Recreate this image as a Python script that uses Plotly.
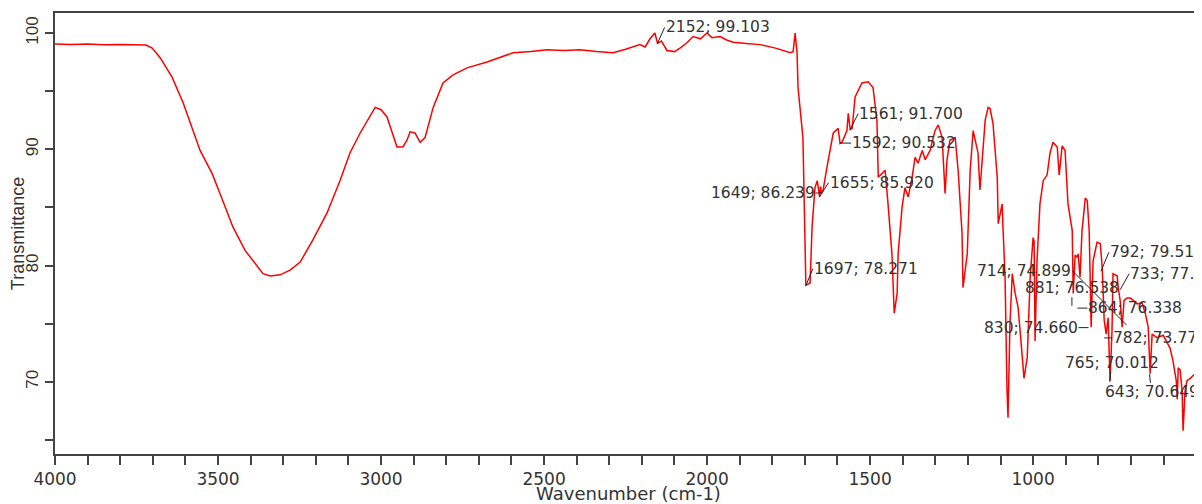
import plotly.graph_objects as go

wavenumber = [
    4000, 3950, 3900, 3850, 3800, 3750, 3721, 3702, 3678, 3641, 3607, 3555, 3518, 3494,
    3454, 3417, 3387, 3362, 3340, 3310, 3279, 3248, 3209, 3166, 3126, 3095, 3064, 3034,
    3018, 3000, 2982, 2963, 2951, 2933, 2920, 2911, 2896, 2880, 2865, 2840, 2810, 2779,
    2736, 2675, 2595, 2540, 2491, 2440, 2390, 2340, 2288, 2250, 2206, 2190, 2175, 2160,
    2152, 2140, 2123, 2100, 2083, 2060, 2043, 2020, 2000, 1985, 1960, 1940, 1920, 1880,
    1837, 1790, 1745, 1736, 1730, 1724, 1721, 1706, 1700, 1697, 1684, 1678, 1669, 1662,
    1655, 1652, 1649, 1644, 1632, 1613, 1598, 1592, 1586, 1571, 1567, 1561, 1555, 1546,
    1525, 1506, 1491, 1479, 1475, 1463, 1454, 1445, 1433, 1426, 1420, 1417, 1414, 1402,
    1393, 1383, 1371, 1362, 1353, 1340, 1331, 1316, 1301, 1291, 1279, 1270, 1264, 1255,
    1239, 1230, 1218, 1215, 1202, 1193, 1184, 1169, 1163, 1147, 1138, 1132, 1123, 1110,
    1107, 1095, 1092, 1086, 1080, 1077, 1071, 1064, 1055, 1046, 1034, 1028, 1018, 1009,
    1000, 997, 994, 988, 979, 969, 957, 948, 939, 926, 920, 911, 902, 893, 880, 877, 871,
    865, 862, 856, 850, 840, 834, 828, 822, 816, 804, 794, 788, 782, 776, 770, 764, 758,
    755, 742, 739, 733, 727, 721, 712, 702, 693, 681, 666, 656, 647, 641, 635, 620, 601,
    580, 571, 561, 558, 555, 549, 543, 540, 534, 528, 518, 503, 488, 482,
]
transmittance = [
    99.05, 99.0, 99.05, 98.98, 99.02, 98.95, 98.97, 98.7, 97.9, 96.2, 94.0, 89.9, 87.9, 86.2,
    83.3, 81.3, 80.2, 79.3, 79.1, 79.2, 79.6, 80.3, 82.2, 84.5, 87.3, 89.7, 91.4, 92.9,
    93.6, 93.4, 92.8, 91.2, 90.2, 90.2, 90.8, 91.5, 91.4, 90.6, 91.0, 93.6, 95.7, 96.4,
    97.0, 97.5, 98.3, 98.4, 98.55, 98.5, 98.55, 98.4, 98.3, 98.6, 99.0, 98.8, 99.5, 100.0,
    99.1, 99.3, 98.5, 98.4, 98.7, 99.2, 99.7, 99.5, 100.0, 99.6, 99.7, 99.4, 99.2, 99.1,
    99.0, 98.7, 98.3, 98.4, 100.0, 98.3, 95.3, 91.0, 83.9, 78.3, 78.5, 83.3, 86.7, 87.3,
    85.9, 86.8, 86.2, 86.5, 88.5, 91.4, 91.8, 90.5, 90.6, 91.6, 93.1, 91.7, 91.8, 94.5,
    95.7, 95.8, 95.3, 92.5, 87.6, 88.0, 88.2, 85.3, 81.0, 75.9, 77.0, 77.6, 81.0, 85.0,
    86.7, 85.9, 87.6, 89.3, 88.8, 89.9, 89.1, 89.9, 91.6, 92.1, 91.0, 86.2, 89.1, 90.8,
    91.0, 88.2, 82.8, 78.1, 81.0, 88.2, 91.6, 89.7, 86.5, 92.5, 93.6, 93.5, 92.2, 87.6,
    83.6, 85.3, 83.0, 79.0, 69.2, 66.9, 75.0, 79.3, 77.6, 76.4, 72.4, 70.3, 72.1, 79.0,
    82.4, 82.1, 73.5, 80.4, 85.3, 87.3, 87.8, 89.7, 90.6, 90.2, 87.8, 90.3, 89.9, 85.3, 83.0, 77.6, 80.9,
    80.7, 81.0, 79.0, 83.0, 85.8, 85.6, 83.0, 74.7, 80.4, 82.0, 81.9, 79.8, 75.3, 74.1, 75.5, 70.1, 74.4,
    79.3, 79.1, 78.1, 77.0, 74.7, 77.0, 77.2, 77.2, 77.0, 76.7, 76.8, 75.9, 74.7, 70.7, 74.1, 73.8, 74.0,
    72.9, 71.8, 70.1, 68.5, 71.2, 71.0, 69.2, 65.8, 69.2, 70.1, 70.3, 70.7, 71.0, 71.2,
]

peak_wn = [2152, 1561, 1592, 1655, 1649, 1697, 714, 881, 864, 830, 792, 733, 782, 765, 643]
peak_t = [99.103, 91.700, 90.532, 85.920, 86.239, 78.271, 74.899, 76.538, 76.338, 74.660,
          79.511, 77.916, 73.775, 70.012, 70.649]
peak_labels = [f"{w}; {t:.3f}" for w, t in zip(peak_wn, peak_t)]
# label placement: (x offset px, y offset px, xanchor)
label_pos = [
    (7, -16, "left"), (8, -16, "left"), (11, 0, "left"), (9, -14, "left"), (-6, 0, "right"),
    (7, -17, "left"), (-54, -54, "right"), (0, -18, "center"), (10, 0, "left"), (-10, 0, "right"),
    (8, -19, "left"), (9, -16, "left"), (8, 0, "left"), (2, -19, "center"), (2, 18, "center"),
]

fig = go.Figure()
fig.add_trace(go.Scatter(x=wavenumber, y=transmittance, mode="lines",
                         line=dict(color="#ff0000", width=1.5), showlegend=False))

for w, t, lab, (ax, ay, xa) in zip(peak_wn, peak_t, peak_labels, label_pos):
    fig.add_annotation(x=w, y=t, text=lab, showarrow=True, arrowhead=0, arrowwidth=1,
                       arrowcolor="#222222", ax=ax, ay=ay, xanchor=xa, yanchor="middle",
                       standoff=0, borderpad=0,
                       font=dict(family="DejaVu Sans", size=15.5, color="#333333"))

axis_color = "#444444"
# page body has an 8px default margin; size the figure so the plot box lands where the reference has it
fig.update_layout(
    width=1194, height=496,
    margin=dict(l=47, r=0, t=5, b=43),
    paper_bgcolor="white", plot_bgcolor="white",
    xaxis=dict(range=[4000, 482], dtick=500, tick0=0, showgrid=False, zeroline=False,
               showline=True, mirror=True, linecolor=axis_color, linewidth=1.5,
               ticks="outside", ticklen=9, tickwidth=1.5, tickcolor=axis_color,
               minor=dict(dtick=100, ticks="outside", ticklen=9, tickwidth=1.5, tickcolor=axis_color),
               tickfont=dict(family="DejaVu Sans", size=17, color="#333333"),
               title=dict(text="Wavenumber (cm-1)", standoff=2,
                          font=dict(family="DejaVu Sans", size=18, color="#333333"))),
    yaxis=dict(range=[63.79, 101.72], dtick=10, tick0=0, showgrid=False, zeroline=False,
               showline=True, mirror=False, linecolor=axis_color, linewidth=1.5,
               ticks="outside", ticklen=8, tickwidth=1.5, tickcolor=axis_color,
               minor=dict(dtick=5, ticks="outside", ticklen=8, tickwidth=1.5, tickcolor=axis_color),
               tickangle=-90,
               tickfont=dict(family="Liberation Sans", size=17, color="#333333"),
               title=dict(text="Transmittance", standoff=2,
                          font=dict(family="Liberation Sans", size=18, color="#333333"))),
)

fig.write_html("out.html")
